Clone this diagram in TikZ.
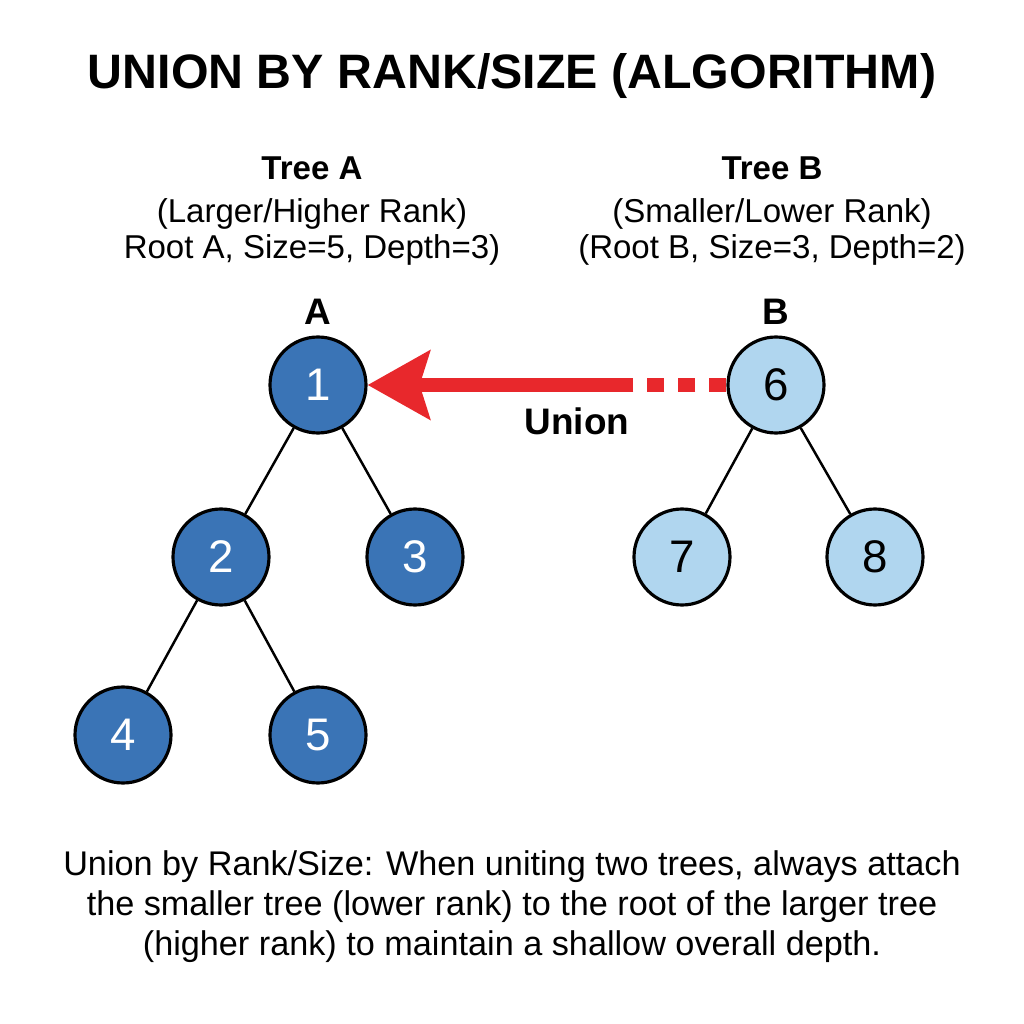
\documentclass[tikz,border=0pt]{standalone}
\usepackage{fontspec}
\setmainfont{Liberation Sans}
\usepackage{tikz}
\usetikzlibrary{arrows.meta}
\definecolor{rankblue}{HTML}{3A74B6}
\definecolor{lightblue}{HTML}{B0D6EF}
\definecolor{unionred}{HTML}{E8282C}
\tikzset{
  dn/.style={circle, draw=black, fill=rankblue, line width=0.9pt, minimum size=9.6mm,
             inner sep=0pt, text=white, font=\fontsize{13}{15}\selectfont},     % tree A node
  ln/.style={dn, fill=lightblue, text=black},                                     % tree B node
  te/.style={draw=black, line width=0.7pt},                                       % tree edge
  ue/.style={draw=unionred, line width=4pt},                                      % union link
  hdr/.style={align=center, font=\fontsize{9.4}{10.3}\selectfont, inner sep=0pt},
  rl/.style={font=\fontsize{10.5}{12}\selectfont\bfseries, inner sep=0pt},
}

\begin{document}
\begin{tikzpicture}
  \useasboundingbox (0,0) rectangle (10.24,10.24);
  \node[font=\fontsize{13.75}{16}\selectfont\bfseries] (title) at (5.12,9.48)
    {UNION BY RANK/SIZE (ALGORITHM)};
  \node[hdr] (hA) at (3.12,8.13) {\textbf{Tree A}\\[2pt](Larger/Higher Rank)\\Root A, Size=5, Depth=3)};
  \node[hdr] (hB) at (7.72,8.13) {\textbf{Tree B}\\[2pt](Smaller/Lower Rank)\\(Root B, Size=3, Depth=2)};
  \node[rl] (lA) at (3.18,7.12) {A};
  \node[rl] (lB) at (7.76,7.12) {B};
  \node[dn] (n1) at (3.18,6.39) {1};
  \node[dn] (n2) at (2.21,4.67) {2};
  \node[dn] (n3) at (4.15,4.67) {3};
  \node[dn] (n4) at (1.23,2.89) {4};
  \node[dn] (n5) at (3.18,2.89) {5};
  \node[ln] (n6) at (7.76,6.39) {6};
  \node[ln] (n7) at (6.82,4.67) {7};
  \node[ln] (n8) at (8.75,4.67) {8};
  \foreach \u/\v in {n1/n2,n1/n3,n2/n4,n2/n5,n6/n7,n6/n8}
    \draw[te] (\u)--(\v);
  \coordinate (brk) at (6.30,6.39);
  \draw[ue, dash pattern=on 0.17cm off 0.14cm] (n6) -- (brk);
  \draw[ue, -{Stealth[length=6.2mm, width=6.8mm, inset=1mm]}] (brk) -- (n1);
  \node[rl] (un) at (5.77,6.03) {Union};
  \node[align=center, font=\fontsize{9.74}{11.4}\selectfont, inner sep=0pt] (note) at (5.12,1.17)
    {Union by Rank/Size: When uniting two trees, always attach\\
     the smaller tree (lower rank) to the root of the larger tree\\
     (higher rank) to maintain a shallow overall depth.};
\end{tikzpicture}
\end{document}
